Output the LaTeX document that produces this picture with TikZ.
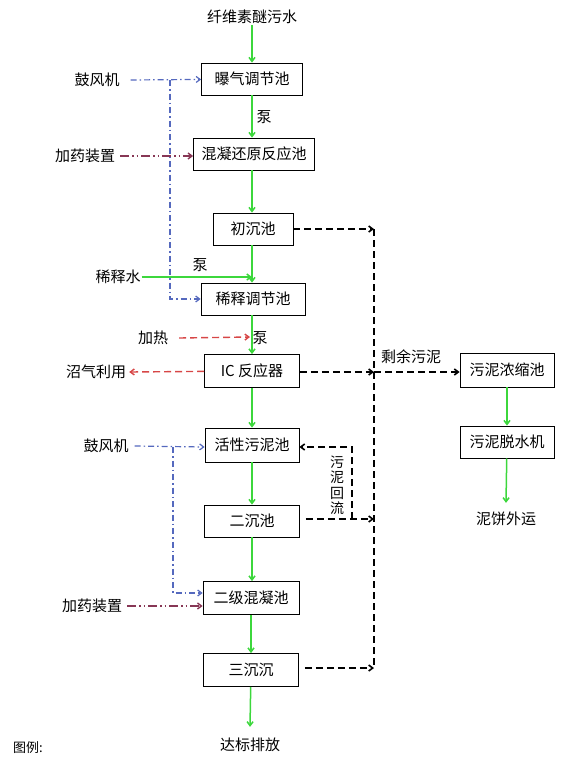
\documentclass[tikz,border=0pt]{standalone}
\usepackage{fontspec}
\setmainfont{Noto Sans CJK SC}
\usepackage{tikz}
\usetikzlibrary{positioning, arrows.meta, calc}
\definecolor{flowgreen}{RGB}{60,215,60}
\definecolor{airblue}{RGB}{85,105,190}
\definecolor{dosered}{RGB}{135,55,85}
\definecolor{heatred}{RGB}{215,70,70}

\begin{document}
\begin{tikzpicture}[
    x=1pt, y=-1pt,
    font=\fontsize{15}{18}\selectfont,
    % Node styles
    tank/.style={draw, line width=0.8pt, minimum height=32pt, inner sep=2pt},
    label/.style={inner sep=1pt},
    % Edge styles
    water/.style={-{Straight Barb[length=4pt,width=6pt]}, line width=1.5pt, flowgreen},
    air/.style={-{Straight Barb[length=4pt,width=6pt]}, line width=1.2pt, airblue,
        dash pattern=on 6pt off 3pt on 1.5pt off 3pt},
    dosing/.style={-{Straight Barb[length=4pt,width=6pt]}, line width=1.4pt, dosered,
        dash pattern=on 9pt off 3pt on 1.5pt off 3pt on 1.5pt off 3pt},
    heat/.style={-{Straight Barb[length=4pt,width=6pt]}, line width=1.4pt, heatred,
        dash pattern=on 7pt off 4pt},
    sludge/.style={line width=1.6pt, black, dash pattern=on 7pt off 4pt},
    sludgeto/.style={sludge, -{Straight Barb[length=4pt,width=6pt]}}
]
\useasboundingbox (0,0) rectangle (562,782);
% Main process tanks
\node[tank, minimum width=101pt] (aer) at (252, 79) {曝气调节池};
\node[tank, minimum width=121pt] (coag) at (254, 154) {混凝还原反应池};
\node[tank, minimum width=80pt] (prim) at (253, 229) {初沉池};
\node[tank, minimum width=104pt] (dil) at (253, 299) {稀释调节池};
\node[tank, minimum width=95pt, minimum height=33pt] (ic) at (252, 371) {IC 反应器};
\node[tank, minimum width=94pt, minimum height=34pt] (act) at (252, 445) {活性污泥池};
\node[tank, minimum width=95pt] (sec) at (252, 521) {二沉池};
\node[tank, minimum width=96pt, minimum height=33pt] (coag2) at (251, 598) {二级混凝池};
\node[tank, minimum width=95pt, minimum height=33pt] (ter) at (251, 670) {三沉沉};
% Sludge line
\node[tank, minimum width=94pt, minimum height=34pt] (thick) at (507, 370) {污泥浓缩池};
\node[tank, minimum width=94pt] (dewat) at (507, 442) {污泥脱水机};
% Inputs and outputs
\node[label] (inflow) at (252, 17) {纤维素醚污水};
\node[label] (outflow) at (250, 745) {达标排放};
\node[label] (cake) at (506, 519) {泥饼外运};
\node[label] (fan1) at (97, 80) {鼓风机};
\node[label] (dose1) at (85, 156) {加药装置};
\node[label] (water) at (118, 277) {稀释水};
\node[label] (heating) at (153, 338) {加热};
\node[label] (biogas) at (96, 372) {沼气利用};
\node[label] (fan2) at (106, 446) {鼓风机};
\node[label] (dose2) at (92, 606) {加药装置};
\node[label, font=\fontsize{13}{15}\selectfont] (legend) at (28, 748) {图例:};
% Edge labels
\node[label] (pump1) at (264, 117) {泵};
\node[label] (pump2) at (200, 265) {泵};
\node[label] (pump3) at (260, 338) {泵};
\node[label] (excess) at (411, 357) {剩余污泥};
\node[label, align=center, font=\fontsize{14}{15.5}\selectfont] (ret) at (337, 485) {污\\泥\\回\\流};
% Junction points
\coordinate (jw) at (252, 277);
\coordinate (jh) at (250, 337);
\coordinate (top) at (374, 229);
\coordinate (mid) at (374, 372);
\coordinate (low) at (374, 519);
\coordinate (bot) at (374, 668);
\coordinate (air1) at (170, 80);
\coordinate (air2) at (173, 447);
\coordinate (back) at (352, 519);
% Water flow
\draw[water] (inflow) -- (aer);
\draw[water] (aer) -- (coag.north -| aer);
\draw[water] (coag.south -| aer) -- (prim.north -| aer);
\draw[water] (prim.south -| aer) -- (dil.north -| aer);
\draw[water] (dil.south -| aer) -- (ic);
\draw[water] (ic) -- (act);
\draw[water] (act) -- (sec);
\draw[water] (sec.south) -- (coag2.north -| sec);
\draw[water] (coag2) -- (ter);
\draw[water] (ter) -- ([yshift=10pt]outflow.north);
\draw[water] (water) -- (jw);
\draw[water] (thick) -- (dewat);
\draw[water] (dewat) -- ([yshift=8pt]cake.north);
% Air
\draw[air] ([xshift=10pt]fan1.east) -- (aer);
\draw[air] (air1) |- (dil.west);
\draw[air] ([xshift=5pt]fan2.east) -- (act.west |- air2);
\draw[air] (air2) |- ([yshift=5pt]coag2.west);
% Dosing
\draw[dosing] ([xshift=4pt]dose1.east) -- (coag.west |- dose1);
\draw[dosing] ([xshift=4pt]dose2.east) -- ([yshift=-8pt]coag2.west);
% Heat and biogas
\draw[heat] ([xshift=10pt]heating.east) -- (jh);
\draw[heat] (ic) -- ([xshift=2pt]biogas.east);
% Sludge
\draw[sludgeto] (prim) -- (top);
\draw[sludge] (top) -- (bot);
\draw[sludgeto] (ic.east |- mid) -- (mid);
\draw[sludgeto] (mid) -- (thick.west |- mid);
\draw[sludgeto] ([xshift=6pt]sec.east |- low) -- (low);
\draw[sludgeto] (back) |- (act.east |- air2);
\draw[sludgeto] ([xshift=6pt]ter.east |- bot) -- (bot);
\end{tikzpicture}
\end{document}
